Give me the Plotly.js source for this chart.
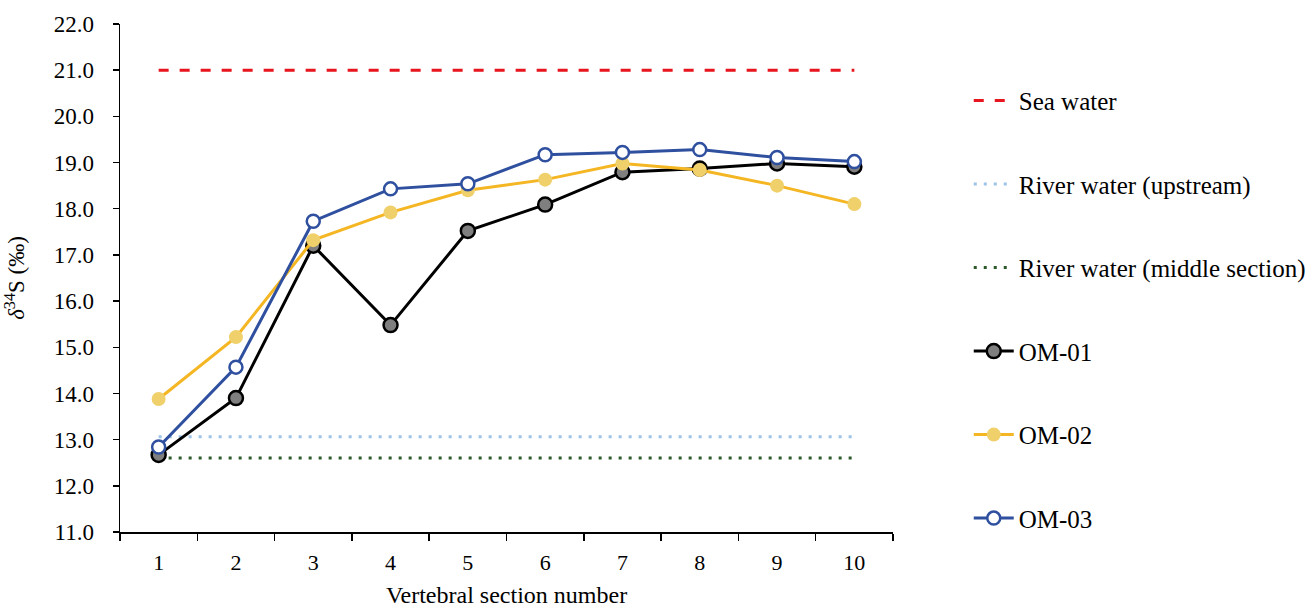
<!DOCTYPE html>
<html>
<head>
<meta charset="utf-8">
<script src="https://cdn.plot.ly/plotly-3.0.1.min.js"></script>
<style>html,body{margin:0;padding:0;background:#fff;}#chart{width:1309px;height:608px;}</style>
</head>
<body>
<div id="chart"></div>
<script>
const sections = ["1","2","3","4","5","6","7","8","9","10"];
const seaWater = [21.0,21.0,21.0,21.0,21.0,21.0,21.0,21.0,21.0,21.0];
const riverUp = [13.06,13.06,13.06,13.06,13.06,13.06,13.06,13.06,13.06,13.06];
const riverMid = [12.6,12.6,12.6,12.6,12.6,12.6,12.6,12.6,12.6,12.6];
const om01 = [12.67,13.9,17.2,15.48,17.52,18.09,18.79,18.87,18.98,18.91];
const om02 = [13.88,15.22,17.32,17.92,18.4,18.63,18.98,18.84,18.5,18.1];
const om03 = [12.84,14.57,17.73,18.43,18.54,19.17,19.22,19.28,19.11,19.02];

const font = "'Liberation Serif','Times New Roman',serif";
const traces = [
  {x: sections, y: seaWater, name: "Sea water", mode: "lines", legendgroup: "a",
   line: {color: "#E8141E", width: 3, dash: "10px,11px"}},
  {x: sections, y: riverUp, name: "River water (upstream)", mode: "lines", legendgroup: "b",
   line: {color: "#9DC3E6", width: 3, dash: "3px,7px"}},
  {x: sections, y: riverMid, name: "River water (middle section)", mode: "lines", legendgroup: "c",
   line: {color: "#2D5A2A", width: 3, dash: "3px,7px"}},
  {x: sections, y: om01, name: "OM-01", mode: "lines+markers", legendgroup: "d",
   line: {color: "#000000", width: 3},
   marker: {size: 14, color: "#7F7F7F", line: {color: "#000000", width: 2.5}}},
  {x: sections, y: om02, name: "OM-02", mode: "lines+markers", legendgroup: "e",
   line: {color: "#F4B623", width: 3},
   marker: {size: 14, color: "#F0D06A", line: {color: "#F0D06A", width: 0}}},
  {x: sections, y: om03, name: "OM-03", mode: "lines+markers", legendgroup: "f",
   line: {color: "#2F4F9F", width: 3},
   marker: {size: 13, color: "#FFFFFF", line: {color: "#2F4F9F", width: 2.5}}}
];

const layout = {
  width: 1309, height: 608,
  margin: {l: 120, r: 416, t: 24, b: 76, autoexpand: false},
  paper_bgcolor: "#fff", plot_bgcolor: "#fff",
  font: {family: font, size: 23, color: "#000"},
  showlegend: true,
  legend: {x: 1.098, xanchor: "left", y: 0.894, yanchor: "top",
    font: {family: font, size: 25, color: "#000"},
    tracegroupgap: 48, traceorder: "grouped", itemwidth: 40},
  xaxis: {type: "category", range: [-0.5, 9.5], tickson: "boundaries", ticks: "outside", ticklen: 7,
    tickcolor: "#000", tickwidth: 1.5, showline: true, linecolor: "#000", linewidth: 1.5,
    showgrid: false, zeroline: false, ticklabelstandoff: 10,
    tickfont: {family: font, size: 22, color: "#000"},
    title: {text: "Vertebral section number", font: {family: font, size: 24, color: "#000"}, standoff: 14}},
  yaxis: {range: [11, 22], dtick: 1, tick0: 11, tickformat: ".1f", ticks: "outside", ticklen: 6,
    tickcolor: "#000", tickwidth: 1.5, showline: true, linecolor: "#000", linewidth: 1.5,
    showgrid: false, zeroline: false, ticklabelstandoff: 14,
    tickfont: {family: font, size: 23, color: "#000"},
    title: {text: "<i>δ</i><sup>34</sup>S (‰)", font: {family: font, size: 23, color: "#000"}, standoff: 22}}
};
Plotly.newPlot("chart", traces, layout, {displayModeBar: false, staticPlot: true});
</script>
</body>
</html>
